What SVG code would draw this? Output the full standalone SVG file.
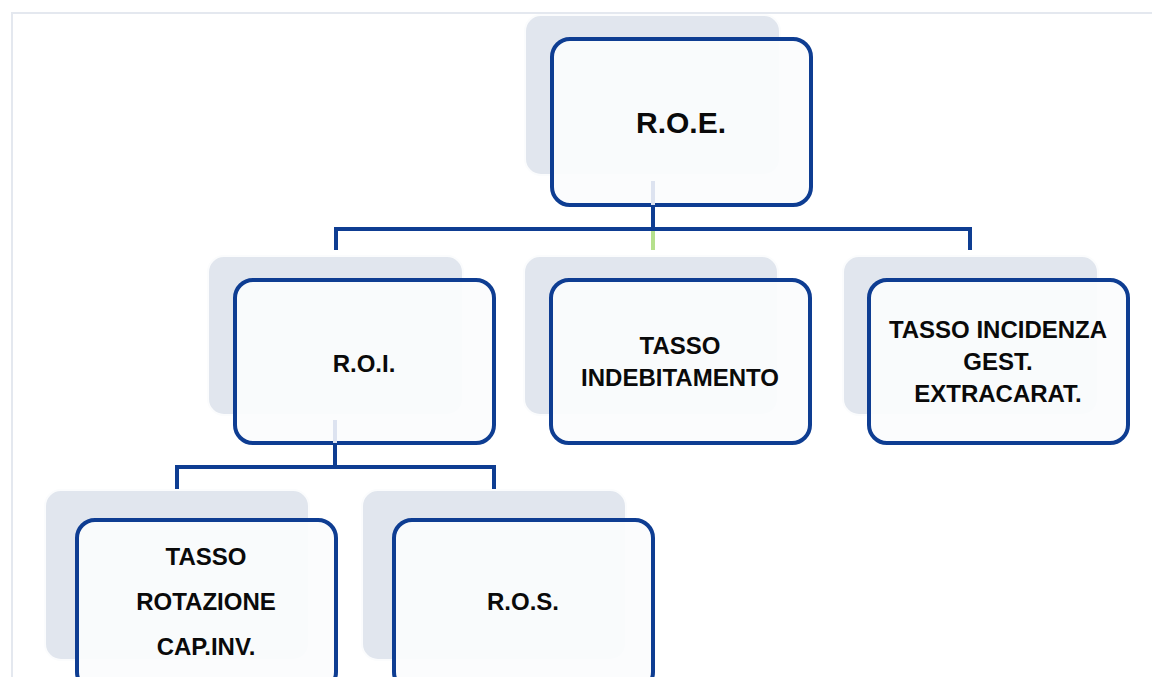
<svg xmlns="http://www.w3.org/2000/svg" width="1152" height="677" viewBox="0 0 1152 677">
  <style>
    .back { fill: #e1e6ee; stroke: #fbfcfd; stroke-width: 2; }
    .front { fill: #fbfcfd; fill-opacity: 0.93; stroke: #0e3d92; stroke-width: 4; }
    .lbl { font-family: "Liberation Sans", Arial, sans-serif; font-weight: bold; font-size: 24px; fill: #0a0a0a; text-anchor: middle; }
    .big { font-size: 30px; }
    .conn { stroke: #0e3d92; stroke-width: 4; fill: none; }
    .faint { stroke: #dde3f0; stroke-width: 4; fill: none; }
  </style>
  <rect width="1152" height="677" fill="#ffffff"/>
  <path d="M12 677 V13 H1152" fill="none" stroke="#e4e8ef" stroke-width="2"/>

  <g id="connectors">
    <path class="conn" d="M653 207 V229 M336 250 V229 H970 V250"/>
    <path d="M653 231 V250" stroke="#b5e08c" stroke-width="4" fill="none"/>
    <path class="conn" d="M335 445 V467 M177 489 V467 H494 V489"/>
  </g>

  <g id="node-roe">
    <rect class="back" x="525" y="15" width="255" height="160" rx="16"/>
    <rect class="front" x="552" y="39" width="259" height="166" rx="18"/>
    <path class="faint" d="M653 181 V205"/>
    <text class="lbl big" x="681" y="133">R.O.E.</text>
  </g>

  <g id="node-roi">
    <rect class="back" x="208" y="256" width="255" height="159" rx="16"/>
    <rect class="front" x="235" y="280" width="259" height="163" rx="18"/>
    <path class="faint" d="M335 420 V443"/>
    <text class="lbl" x="364" y="372">R.O.I.</text>
  </g>

  <g id="node-indebitamento">
    <rect class="back" x="524" y="256" width="254" height="159" rx="16"/>
    <rect class="front" x="551" y="280" width="259" height="163" rx="18"/>
    <text class="lbl" x="680" y="354">TASSO</text>
    <text class="lbl" x="680" y="386">INDEBITAMENTO</text>
  </g>

  <g id="node-incidenza">
    <rect class="back" x="843" y="256" width="255" height="159" rx="16"/>
    <rect class="front" x="869" y="280" width="259" height="163" rx="18"/>
    <text class="lbl" x="998" y="338">TASSO INCIDENZA</text>
    <text class="lbl" x="998" y="370">GEST.</text>
    <text class="lbl" x="998" y="402">EXTRACARAT.</text>
  </g>

  <g id="node-rotazione">
    <rect class="back" x="45" y="490" width="264" height="170" rx="16"/>
    <rect class="front" x="77" y="520" width="259" height="170" rx="18"/>
    <text class="lbl" x="206" y="565">TASSO</text>
    <text class="lbl" x="206" y="610">ROTAZIONE</text>
    <text class="lbl" x="206" y="655">CAP.INV.</text>
  </g>

  <g id="node-ros">
    <rect class="back" x="362" y="490" width="264" height="170" rx="16"/>
    <rect class="front" x="394" y="520" width="259" height="170" rx="18"/>
    <text class="lbl" x="523" y="610">R.O.S.</text>
  </g>
</svg>
